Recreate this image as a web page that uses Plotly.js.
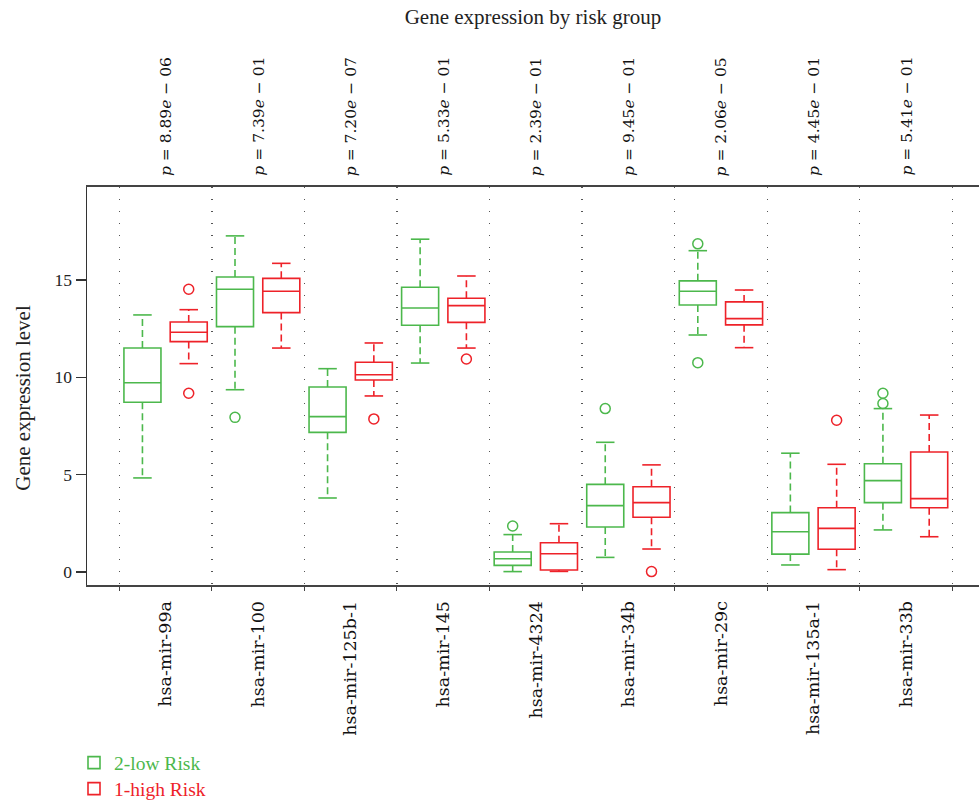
<!DOCTYPE html>
<html>
<head>
<meta charset="utf-8">
<script src="https://cdn.plot.ly/plotly-3.0.1.min.js"></script>
<style>html,body{margin:0;padding:0;background:#fff;}#chart{width:979px;height:801px;}</style>
</head>
<body>
<div id="chart"></div>
<script>
// ---- data ----
var genes = ['hsa-mir-99a','hsa-mir-100','hsa-mir-125b-1','hsa-mir-145','hsa-mir-4324','hsa-mir-34b','hsa-mir-29c','hsa-mir-135a-1','hsa-mir-33b'];
var pMantissa = ['8.89','7.39','7.20','5.33','2.39','9.45','2.06','4.45','5.41'];
var pExponent = ['06','01','07','01','01','01','05','01','01'];

// 2-low Risk (green)
var lowUpper  = [13.2, 17.26, 10.44, 17.09, 1.92, 6.66, 16.5, 6.1, 8.39];
var lowQ3     = [11.5, 15.15, 9.5, 14.62, 1.03, 4.5, 14.95, 3.05, 5.56];
var lowMedian = [9.72, 14.52, 7.98, 13.56, 0.68, 3.41, 14.42, 2.07, 4.69];
var lowQ1     = [8.72, 12.6, 7.17, 12.67, 0.34, 2.31, 13.71, 0.92, 3.56];
var lowLower  = [4.83, 9.36, 3.8, 10.73, 0.02, 0.75, 12.17, 0.36, 2.16];
var lowOutliers = [[], [7.94], [], [], [2.36], [8.39], [16.85, 10.75], [], [9.18, 8.65]];

// 1-high Risk (red)
var highUpper  = [13.47, 15.85, 11.76, 15.2, 2.48, 5.5, 14.48, 5.53, 8.06];
var highQ3     = [12.84, 15.08, 10.77, 14.06, 1.5, 4.38, 13.87, 3.3, 6.16];
var highMedian = [12.31, 14.42, 10.13, 13.68, 0.94, 3.56, 13.01, 2.24, 3.77];
var highQ1     = [11.83, 13.32, 9.86, 12.82, 0.1, 2.81, 12.69, 1.17, 3.3];
var highLower  = [10.7, 11.5, 9.04, 11.5, 0.03, 1.18, 11.52, 0.12, 1.81];
var highOutliers = [[14.52, 9.18], [], [7.86], [10.94], [], [0.02], [], [7.79], []];

// ---- styles ----
var GREEN = '#4cb84c';
var RED = '#ee2229';
var SERIF = 'Liberation Serif, serif';
var WIDE = 'DejaVu Serif, serif';
var OFFSET = 0.25, BOXW = 0.4, CAP = 0.1;

var genePos = genes.map(function(g, i){ return i + 1; });

function groupTraces(name, color, dx, upper, q3, med, q1, lower, outs, legendId){
  var xs = genePos.map(function(p){ return p + dx; });
  var box = {
    type: 'box', name: name, x: xs,
    q1: q1, median: med, q3: q3, lowerfence: q1, upperfence: q3,
    width: BOXW, whiskerwidth: 0, boxpoints: false,
    line: {color: color, width: 1.6}, fillcolor: 'rgba(0,0,0,0)',
    hoverinfo: 'skip', legend: legendId, showlegend: true
  };
  var wx = [], wy = [], cx = [], cy = [];
  xs.forEach(function(x, i){
    wx.push(x, x, null, x, x, null);
    wy.push(q3[i], upper[i], null, q1[i], lower[i], null);
    cx.push(x - CAP, x + CAP, null, x - CAP, x + CAP, null);
    cy.push(upper[i], upper[i], null, lower[i], lower[i], null);
  });
  var whisk = {type: 'scatter', mode: 'lines', x: wx, y: wy, connectgaps: false,
    line: {color: color, width: 1.6, dash: '7px,4px'}, showlegend: false, hoverinfo: 'skip'};
  var caps = {type: 'scatter', mode: 'lines', x: cx, y: cy, connectgaps: false,
    line: {color: color, width: 1.6}, showlegend: false, hoverinfo: 'skip'};
  var ox = [], oy = [];
  outs.forEach(function(arr, i){ arr.forEach(function(v){ ox.push(xs[i]); oy.push(v); }); });
  var pts = {type: 'scatter', mode: 'markers', x: ox, y: oy,
    marker: {symbol: 'circle-open', size: 10, color: color, line: {width: 1.5, color: color}},
    showlegend: false, hoverinfo: 'skip'};
  return [whisk, caps, box, pts];
}

var data = [].concat(
  groupTraces('2-low Risk', GREEN, -OFFSET, lowUpper, lowQ3, lowMedian, lowQ1, lowLower, lowOutliers, 'legend'),
  groupTraces('1-high Risk', RED, OFFSET, highUpper, highQ3, highMedian, highQ1, highLower, highOutliers, 'legend2')
);

var annotations = genes.map(function(g, i){
  return {
    x: genePos[i], xref: 'x', y: 1, yref: 'paper',
    xanchor: 'center', yanchor: 'bottom', yshift: 9,
    textangle: -90, showarrow: false,
    text: '<i>p</i> = ' + pMantissa[i] + '<i>e</i> \u2212 ' + pExponent[i],
    font: {family: WIDE, size: 15.5, color: '#111'}
  };
});
// y-axis title, placed like the reference (slightly below axis centre)
annotations.push({
  text: 'Gene expression level', xref: 'paper', yref: 'paper',
  x: (22.7 - 87) / 892, y: (585 - 398) / 398, xanchor: 'center', yanchor: 'middle',
  textangle: -90, showarrow: false,
  font: {family: SERIF, size: 21, color: '#222'}
});

var layout = {
  width: 979, height: 801,
  margin: {l: 87, r: 0, t: 187, b: 216},
  paper_bgcolor: '#fff', plot_bgcolor: '#fff',
  title: {text: 'Gene expression by risk group', x: 0.5, xref: 'paper',
    y: 1 - 17/801, yref: 'container', yanchor: 'middle',
    font: {family: SERIF, size: 21, color: '#222'}},
  boxmode: 'overlay',
  xaxis: {
    range: [0.151, 9.788], autorange: false,
    tickmode: 'array', tickvals: genePos, ticktext: genes,
    tickangle: -90, ticks: '', ticklabelstandoff: 7,
    tickfont: {family: WIDE, size: 17.5, color: '#111'},
    showgrid: false, zeroline: false,
    showline: true, mirror: true, linecolor: '#444', linewidth: 2,
    minor: {tick0: 0.5, dtick: 1, ticks: 'outside', ticklen: 4, tickcolor: '#444', tickwidth: 1,
      showgrid: true, gridcolor: '#555', gridwidth: 1.4, griddash: '1.4px,10.6px'}
  },
  yaxis: {
    range: [-0.668, 19.77], autorange: false,
    tickmode: 'array', tickvals: [0, 5, 10, 15], ticktext: ['0', '5', '10', '15'],
    ticks: 'outside', ticklen: 10, tickwidth: 1.5, tickcolor: '#333',
    tickfont: {family: SERIF, size: 17.5, color: '#222'},
    showline: true, linecolor: '#333', linewidth: 1.5,
    showgrid: false, zeroline: false
  },
  legend: {xref: 'paper', yref: 'container', x: (74 - 87) / 892, y: 1 - 763 / 801,
    xanchor: 'left', yanchor: 'middle', itemwidth: 30, bgcolor: 'rgba(0,0,0,0)',
    font: {family: SERIF, size: 19.5, color: GREEN}},
  legend2: {xref: 'paper', yref: 'container', x: (74 - 87) / 892, y: 1 - 789 / 801,
    xanchor: 'left', yanchor: 'middle', itemwidth: 30, bgcolor: 'rgba(0,0,0,0)',
    font: {family: SERIF, size: 19.5, color: RED}},
  annotations: annotations
};

Plotly.newPlot('chart', data, layout, {displayModeBar: false, staticPlot: true});
</script>
</body>
</html>
